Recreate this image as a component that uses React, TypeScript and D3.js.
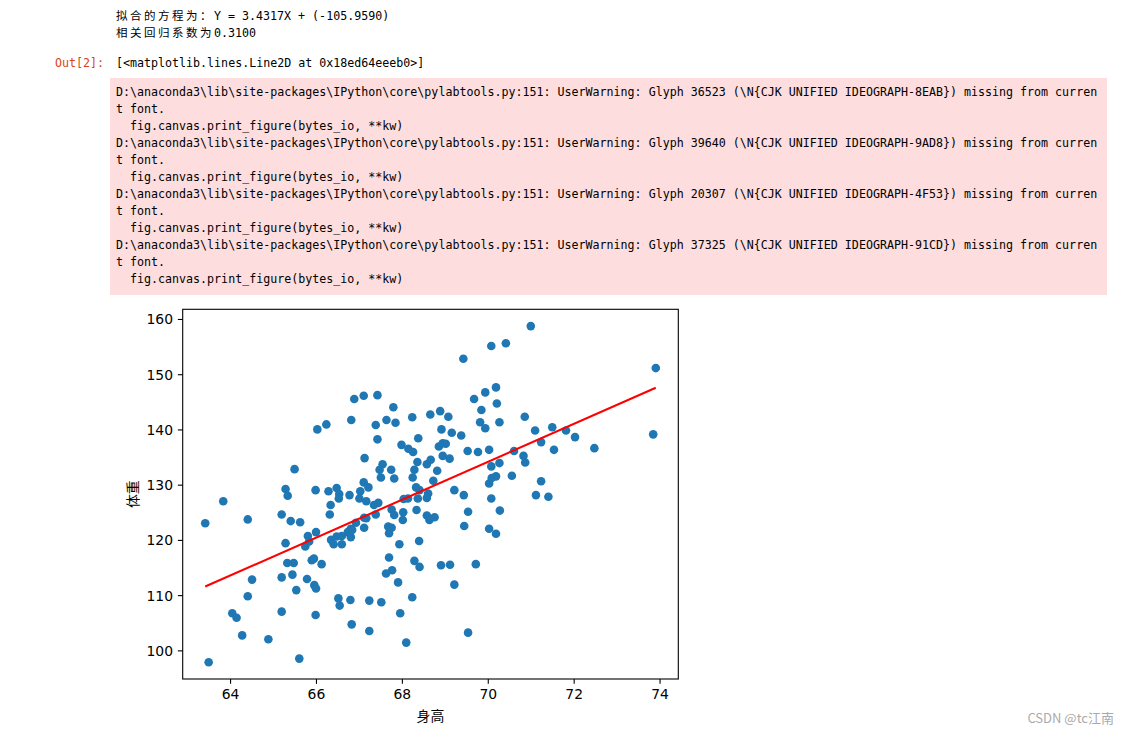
import React, { useEffect } from "react";
import * as d3 from "d3";

// ---- data ----
const heights: number[] = [
  65.49, 66.02, 66.23, 66.81, 66.88, 67.10, 67.42, 67.79, 67.38, 67.63,
  67.84, 67.42, 68.23, 68.65, 68.88, 69.07, 68.37, 67.98, 68.14, 68.25,
  68.91, 69.15, 69.37, 68.85, 68.94, 69.01, 68.94, 69.10, 69.52, 67.12,
  67.54, 67.47, 67.50, 67.74, 67.81, 68.35, 68.57, 68.66, 68.81, 68.28,
  68.24, 68.72, 66.28, 66.47, 66.53, 66.77, 67.02, 67.10, 67.21, 67.00,
  67.44, 68.32, 68.40, 68.60, 68.57, 68.36, 68.13, 69.21, 69.43, 66.33,
  65.28, 65.98, 66.52,
  63.41, 63.83, 64.40, 63.49, 64.50, 64.40, 64.04, 64.14, 64.27, 64.88,
  65.60, 65.33, 65.19, 65.40, 65.62, 65.28, 65.32, 65.47, 65.19, 65.44,
  65.53, 65.19, 65.80, 65.99, 65.83, 65.74, 65.89, 65.94, 66.12, 65.78,
  65.95, 65.99, 65.98, 66.31, 67.16, 67.34, 67.38, 67.11, 67.11, 66.92,
  66.80, 66.73, 66.59, 66.47, 66.34, 66.40, 66.59, 66.80, 67.69, 67.76,
  67.62, 67.90, 67.95, 68.09, 68.23, 67.93, 68.28, 68.40, 68.39, 67.69,
  67.67, 67.75, 67.81, 67.75, 68.02, 68.01, 68.03, 68.33, 68.57, 68.63,
  66.82, 67.23, 67.23, 67.51, 66.79, 66.51, 66.54, 66.83, 67.16, 68.75,
  69.44, 69.53,
  69.42, 70.07, 70.41, 70.99, 73.90, 69.67, 69.93, 70.18, 70.20, 69.84,
  69.81, 69.93, 70.26, 70.85, 69.76, 70.02, 70.60, 70.82, 70.86, 71.09,
  71.23, 71.49, 71.53, 71.81, 72.02, 72.47, 73.84, 70.07, 70.26, 70.02,
  70.18, 70.08, 70.55, 71.23, 70.07, 71.11, 71.40, 70.27, 70.02, 70.18,
  68.90, 69.11, 69.71, 69.21, 69.53,
];
const weights: number[] = [
  132.9, 140.1, 141.0, 141.8, 145.6, 146.2, 146.3, 144.1, 140.9, 141.8,
  141.3, 138.3, 142.3, 142.8, 143.4, 142.4, 138.5, 137.3, 136.6, 136.0,
  140.1, 139.5, 139.0, 137.0, 137.6, 137.5, 135.3, 134.8, 136.2, 134.9,
  133.8, 132.8, 131.4, 132.8, 131.2, 134.2, 133.8, 134.6, 132.6, 132.8,
  131.4, 130.8, 128.9, 129.5, 128.4, 128.2, 128.9, 130.5, 129.6, 127.6,
  126.8, 129.6, 129.1, 128.5, 127.7, 127.6, 127.6, 129.1, 128.2, 126.4,
  129.3, 129.1, 127.6,
  123.1, 127.1, 123.8, 97.95, 112.9, 109.9, 106.8, 106.0, 102.8, 102.1,
  98.6, 128.1, 124.7, 123.5, 123.3, 119.5, 115.9, 115.9, 113.3, 113.8,
  111.0, 107.1, 120.8, 121.5, 119.8, 118.9, 116.4, 116.7, 115.7, 113.0,
  111.9, 111.3, 106.5, 124.7, 127.1, 126.4, 124.7, 124.1, 122.3, 123.2,
  122.1, 121.5, 120.8, 120.7, 120.1, 119.3, 119.3, 120.6, 116.9, 114.6,
  114.0, 112.4, 106.8, 101.5, 109.7, 119.3, 116.3, 115.2, 119.9, 121.3,
  122.5, 122.3, 124.6, 125.6, 125.1, 123.7, 127.5, 125.5, 124.5, 123.7,
  104.8, 103.6, 109.1, 108.8, 109.2, 109.5, 108.2, 121.9, 124.0, 124.2,
  122.6, 125.2,
  152.9, 155.2, 155.7, 158.8, 151.2, 145.6, 146.8, 147.7, 144.8, 143.6,
  141.4, 140.3, 141.4, 142.4, 136.0, 136.4, 136.2, 135.3, 134.1, 139.9,
  137.8, 140.5, 136.4, 139.9, 138.7, 136.7, 139.2, 133.4, 134.0, 130.3,
  131.6, 131.3, 131.7, 130.7, 127.6, 128.2, 127.9, 125.4, 122.1, 121.2,
  115.5, 115.6, 115.7, 112.0, 103.3,
];
const slope = 3.4317;
const intercept = -105.959;
const xTicks: number[] = [64, 66, 68, 70, 72, 74];
const yTicks: number[] = [100, 110, 120, 130, 140, 150, 160];

const outLines: string[] = [
  "拟合的方程为：|Y = 3.4317X + (-105.9590)",
  "相关回归系数为|0.3100",
];
const outPrompt = "Out[2]:";
const outRepr = "[<matplotlib.lines.Line2D at 0x18ed64eeeb0>]";
const glyphs: [string, string][] = [
  ["36523", "8EAB"],
  ["39640", "9AD8"],
  ["20307", "4F53"],
  ["37325", "91CD"],
];
const xLabel = "身高";
const yLabel = "体重";
const watermark = "CSDN @tc江南";

const W = 1129;
const H = 735;
const MONO = "'DejaVu Sans Mono', 'Liberation Mono', monospace";
const CJK = "'Noto Sans CJK SC', sans-serif";

export default function App() {
  useEffect(() => {
    document.body.style.margin = "0";
    document.body.style.background = "#fff";
  }, []);

  const L = 182.7, R = 678.3, T = 309.3, B = 679;
  const xExt = d3.extent(heights) as [number, number];
  const yExt = d3.extent(weights) as [number, number];
  const xm = (xExt[1] - xExt[0]) * 0.05;
  const ym = (yExt[1] - yExt[0]) * 0.05;
  const x = d3.scaleLinear().domain([xExt[0] - xm, xExt[1] + xm]).range([L, R]);
  const y = d3.scaleLinear().domain([yExt[0] - ym, yExt[1] + ym]).range([B, T]);
  const pts = heights.map((h, i) => [h, weights[i]] as [number, number]);
  const lineGen = d3.line<number>().x((v) => x(v)).y((v) => y(slope * v + intercept));
  const tickLen = 4.86;
  const warnLines: string[] = [];
  glyphs.forEach(([code, hex]) => {
    warnLines.push(
      `D:\\anaconda3\\lib\\site-packages\\IPython\\core\\pylabtools.py:151: UserWarning: Glyph ${code} (\\N{CJK UNIFIED IDEOGRAPH-${hex}}) missing from curren`
    );
    warnLines.push("t font.");
    warnLines.push("  fig.canvas.print_figure(bytes_io, **kw)");
  });

  return (
    <svg width={W} height={H} style={{ display: "block", background: "#fff" }}>
      {/* output text */}
      {outLines.map((ln, i) => {
        const [cjk, rest] = ln.split("|");
        return (
          <text key={i} x={116} y={20 + i * 17} fontSize={11.65} fill="#000" style={{ whiteSpace: "pre" }}>
            <tspan fontFamily={CJK} fontSize={11.5} letterSpacing={2.5}>{cjk}</tspan>
            <tspan fontFamily={MONO}>{rest}</tspan>
          </text>
        );
      })}
      <text x={55} y={67} fontFamily={MONO} fontSize={11.65} fill="#D84315">{outPrompt}</text>
      <text x={116} y={67} fontFamily={MONO} fontSize={11.65} fill="#000">{outRepr}</text>

      {/* stderr box */}
      <rect x={110} y={78} width={997} height={217} fill="#FDDDDD" />
      {warnLines.map((ln, i) => (
        <text key={i} x={116} y={96 + i * 17} fontFamily={MONO} fontSize={11.65} fill="#000"
          style={{ whiteSpace: "pre" }}>{ln}</text>
      ))}

      {/* chart */}
      <g>
        {pts.map((p, i) => (
          <circle key={i} cx={x(p[0])} cy={y(p[1])} r={4.3} fill="#1f77b4" />
        ))}
      </g>
      <path d={lineGen([xExt[0], xExt[1]]) || ""} stroke="red" strokeWidth={2.08} fill="none" />
      <rect x={L} y={T} width={R - L} height={B - T} fill="none" stroke="#000" strokeWidth={1.1} />
      {xTicks.map((t) => (
        <g key={t}>
          <line x1={x(t)} x2={x(t)} y1={B} y2={B + tickLen} stroke="#000" strokeWidth={1.1} />
          <text x={x(t)} y={B + tickLen + 4.86 + 10.5} textAnchor="middle"
            fontFamily="'DejaVu Sans', sans-serif" fontSize={13.9} fill="#000">{t}</text>
        </g>
      ))}
      {yTicks.map((t) => (
        <g key={t}>
          <line x1={L - tickLen} x2={L} y1={y(t)} y2={y(t)} stroke="#000" strokeWidth={1.1} />
          <text x={L - tickLen - 4.86} y={y(t)} dy="0.36em" textAnchor="end"
            fontFamily="'DejaVu Sans', sans-serif" fontSize={13.9} fill="#000">{t}</text>
        </g>
      ))}
      <text x={(L + R) / 2} y={721} textAnchor="middle" fontFamily={CJK} fontSize={13.9} fill="#000">{xLabel}</text>
      <text transform={`translate(${138},${(T + B) / 2}) rotate(-90)`} textAnchor="middle"
        fontFamily={CJK} fontSize={13.9} fill="#000">{yLabel}</text>

      <text x={1114} y={723} textAnchor="end" fontFamily="'Noto Sans CJK SC', 'Noto Sans', sans-serif"
        fontSize={13} fill="#aaa">{watermark}</text>
    </svg>
  );
}
